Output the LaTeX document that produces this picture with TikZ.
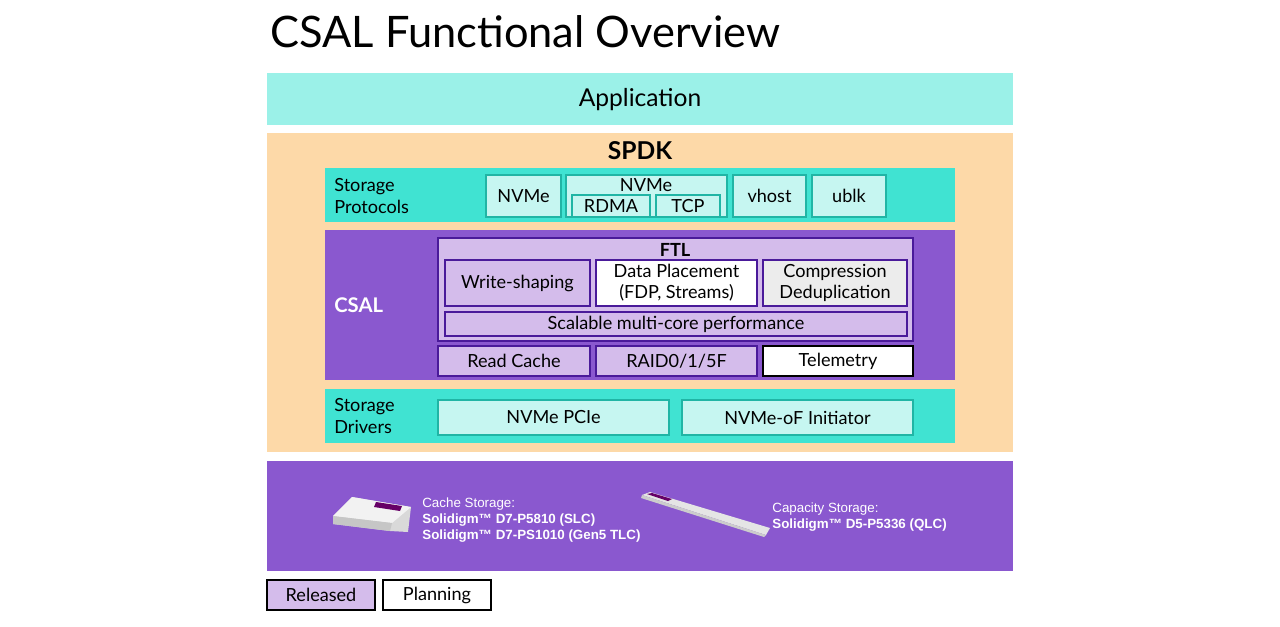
\documentclass[tikz,border=0pt]{standalone}
\usepackage{fontspec}
\setmainfont{Lato}
\newfontfamily\arialf{Liberation Sans}
\begin{document}
\begin{tikzpicture}[x=0.02cm,y=-0.02cm,
  lbl/.style={font=\fontsize{10.3pt}{12pt}\selectfont,align=center,inner sep=0pt,text=black}]
\definecolor{app}{HTML}{9BF1E8}
\definecolor{spdk}{HTML}{FDD9A8}
\definecolor{tq}{HTML}{40E3D2}
\definecolor{pur}{HTML}{8A58CF}
\definecolor{lpur}{HTML}{D4BCEB}
\definecolor{dpur}{HTML}{4A1A9A}
\definecolor{lcy}{HTML}{C6F6F1}
\definecolor{bcy}{HTML}{20B5A5}
\tikzset{proto/.style={draw=bcy,fill=lcy,line width=0.7pt},
  rel/.style={draw=dpur,fill=lpur,line width=0.8pt}}
\useasboundingbox (0,0) rectangle (1280,626);
\fill[white] (0,0) rectangle (1280,626);
\node[anchor=base west,inner sep=0pt,font=\fontsize{24.7pt}{28pt}\selectfont] (title) at (270,47) {CSAL Functional Overview};
\fill[app] (267,73) rectangle (1013,125);
\node[lbl,font=\fontsize{14pt}{16pt}\selectfont] (app) at (640,100) {Application};
\fill[spdk] (267,133) rectangle (1013,452);
\node[lbl,font=\bfseries\fontsize{14pt}{16pt}\selectfont] (spdk) at (640,151) {SPDK};
% storage protocols
\fill[tq] (325,168) rectangle (955,222);
\node[lbl,align=left,anchor=west] (sp) at (334,196) {Storage\\Protocols};
\draw[proto] (486,175) rectangle (561,217) node[midway,lbl] (nv1) {NVMe};
\draw[proto] (566,175) rectangle (727,217);
\node[lbl] (nv2) at (646,185) {NVMe};
\draw[proto] (572,195) rectangle (650,217) node[midway,lbl] (rdma) {RDMA};
\draw[proto] (656,195) rectangle (720,217) node[midway,lbl] (tcp) {TCP};
\draw[proto] (733,175) rectangle (806,217) node[midway,lbl] (vh) {vhost};
\draw[proto] (812,175) rectangle (886,217) node[midway,lbl] (ub) {ublk};
% CSAL
\fill[pur] (325,230) rectangle (955,380);
\node[lbl,anchor=west,text=white,font=\bfseries\fontsize{11.5pt}{13pt}\selectfont] (csal) at (334,305) {CSAL};
\draw[rel] (438,238) rectangle (913,341);
\node[lbl,font=\bfseries\fontsize{10.3pt}{12pt}\selectfont] (ftl) at (675,250) {FTL};
\draw[rel] (445,260) rectangle (590,306) node[midway,lbl] (ws) {Write-shaping};
\draw[dpur,fill=white,line width=0.8pt] (596,260) rectangle (757,306) node[midway,lbl] (dp) {Data Placement\\(FDP, Streams)};
\draw[dpur,fill=gray!15,line width=0.8pt] (763,260) rectangle (907,306) node[midway,lbl] (cd) {Compression\\Deduplication};
\draw[rel] (445,312) rectangle (907,336) node[midway,lbl] (sc) {Scalable multi-core performance};
\draw[rel] (438,346) rectangle (590,376) node[midway,lbl] (rc) {Read Cache};
\draw[rel] (596,346) rectangle (757,376) node[midway,lbl] (raid) {RAID0/1/5F};
\draw[black,fill=white,line width=0.8pt] (763,346) rectangle (913,376) node[midway,lbl] (tel) {Telemetry};
% drivers
\fill[tq] (325,389) rectangle (955,443);
\node[lbl,align=left,anchor=west] (sd) at (334,416) {Storage\\Drivers};
\draw[proto] (438,400) rectangle (669,435) node[midway,lbl] (pcie) {NVMe PCIe};
\draw[proto] (682,400) rectangle (913,435) node[midway,lbl] (nof) {NVMe-oF Initiator};
% hardware
\fill[pur] (267,461) rectangle (1013,571);
% cache drive
\fill[gray!30] (333,516) -- (352,497) -- (411,507) -- (408,532) -- (390,531) -- (333,524) -- cycle;
\fill[gray!10] (333,516) -- (352,497) -- (411,507) -- (392,523) -- cycle;
\fill[gray!45] (333,516) -- (392,523) -- (390,531) -- (333,524) -- cycle;
\fill[violet!80!black] (376,502) -- (402,506) -- (400,511) -- (374,507) -- cycle;
% stick drive
\fill[gray!20] (642,495) -- (650,492) -- (770,528) -- (766,535) -- cycle;
\fill[gray!40] (642,495) -- (766,535) -- (764,537) -- (641,498) -- cycle;
\fill[violet!80!black] (647,494) -- (652,493) -- (672,499) -- (668,501) -- cycle;
\node[anchor=north west,align=left,inner sep=0pt,text=white,font=\arialf\fontsize{7.6pt}{9.1pt}\selectfont] (cache) at (422,497) {Cache Storage:\\\textbf{Solidigm™ D7-P5810 (SLC)}\\\textbf{Solidigm™ D7-PS1010 (Gen5 TLC)}};
\node[anchor=north west,align=left,inner sep=0pt,text=white,font=\arialf\fontsize{7.6pt}{9.1pt}\selectfont] (cap) at (772,502) {Capacity Storage:\\\textbf{Solidigm™ D5-P5336 (QLC)}};
% legend
\draw[black,fill=lpur,line width=0.8pt] (267,580) rectangle (375,610) node[midway,lbl] (lr) {Released};
\draw[black,fill=white,line width=0.8pt] (383,580) rectangle (491,610) node[midway,lbl] (lp) {Planning};
\end{tikzpicture}
\end{document}
